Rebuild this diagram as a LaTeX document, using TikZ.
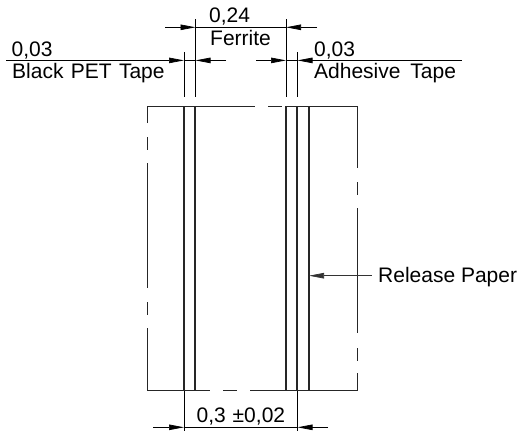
\documentclass[tikz,border=0pt]{standalone}
\usepackage{fontspec}
\setmainfont{Liberation Sans}
\usetikzlibrary{arrows.meta}
\tikzset{
  thin line/.style={line width=0.8pt,black!85},
  thick line/.style={line width=1.7pt,black!85},
  dim/.style={line width=0.7pt,black},
  tip/.style={-{Triangle[length=15pt,width=5.5pt]}},
  lab/.style={font=\fontsize{21pt}{24pt}\selectfont,inner sep=0pt,anchor=base west}
}
\begin{document}
\begin{tikzpicture}[x=1pt,y=-1pt]
\useasboundingbox (0,0) rectangle (521,431);
% body outline
\draw[thin line] (147.5,123) -- (147.5,106) -- (255,106);
\draw[thin line] (268,106) -- (281.5,106);
\draw[thin line] (286,106) -- (357.7,106) -- (357.7,168);
\draw[thin line] (147.5,137) -- (147.5,150);
\draw[thin line] (147.5,163) -- (147.5,288);
\draw[thin line] (147.5,302) -- (147.5,315);
\draw[thin line] (147.5,328) -- (147.5,390.7) -- (210,390.7);
\draw[thin line] (223,390.7) -- (237,390.7);
\draw[thin line] (250,390.7) -- (357.7,390.7) -- (357.7,373);
\draw[thin line] (357.7,182) -- (357.7,195);
\draw[thin line] (357.7,208) -- (357.7,333);
\draw[thin line] (357.7,348) -- (357.7,361);
% layers
\foreach \x in {184,195,286,297,309}
  \draw[thick line] (\x,106) -- (\x,390.7);
% extension lines
\coordinate (a) at (184,52.3);
\coordinate (a2) at (184,97);
\coordinate (b) at (195.5,19);
\coordinate (b2) at (195.5,97);
\coordinate (c) at (286,19);
\coordinate (c2) at (286,97);
\coordinate (d) at (297.5,52.3);
\coordinate (d2) at (297.5,97);
\coordinate (e) at (184,391);
\coordinate (e2) at (184,431);
\coordinate (f) at (297.5,391);
\coordinate (f2) at (297.5,431);
\draw[dim] (a) -- (a2);
\draw[dim] (b) -- (b2);
\draw[dim] (c) -- (c2);
\draw[dim] (d) -- (d2);
\draw[dim] (e) -- (e2);
\draw[dim] (f) -- (f2);
% dimension lines
\coordinate (t1) at (165,27.3);
\coordinate (t2) at (317,27.3);
\coordinate (tl) at (195.5,27.3);
\coordinate (tr) at (286,27.3);
\draw[dim] (tl) -- (tr);
\draw[dim,tip] (t1) -- (tl);
\draw[dim,tip] (t2) -- (tr);
\coordinate (l1) at (6,60.4);
\coordinate (l2) at (226,60.4);
\coordinate (r1) at (256,60.4);
\coordinate (r2) at (461.5,60.4);
\coordinate (la) at (184,60.4);
\coordinate (lb) at (195.5,60.4);
\coordinate (ra) at (286,60.4);
\coordinate (rb) at (297.5,60.4);
\draw[dim] (la) -- (lb);
\draw[dim] (ra) -- (rb);
\draw[dim,tip] (l1) -- (la);
\draw[dim,tip] (l2) -- (lb);
\draw[dim,tip] (r1) -- (ra);
\draw[dim,tip] (r2) -- (rb);
\coordinate (u1) at (153,427.3);
\coordinate (u2) at (328,427.3);
\coordinate (ua) at (184,427.3);
\coordinate (ub) at (297.5,427.3);
\draw[dim] (ua) -- (ub);
\draw[dim,tip] (u1) -- (ua);
\draw[dim,tip] (u2) -- (ub);
% leader
\node[lab] (rp) at (378,282.7) {Release Paper};
\coordinate (rt) at (309,275.7);
\draw[dim,black!80,tip] ([shift={(-6.3,0)}]rp.west |- rt) -- (rt);
% labels
\node[lab] (n1) at (209,22.7) {0,24};
\node[lab] (n2) at (210,45.7) {Ferrite};
\node[lab] (n3) at (11.5,56.5) {0,03};
\node[lab] (n4) at (12,78.7) {Black\hspace{1.5pt} PET\hspace{1.5pt} Tape};
\node[lab] (n5) at (314,56.5) {0,03};
\node[lab] (n6) at (314,78.7) {Adhesive\hspace{4pt} Tape};
\node[lab] (n7) at (196.5,422.7) {0,3\hspace{1pt} ±0,02};
\end{tikzpicture}
\end{document}
